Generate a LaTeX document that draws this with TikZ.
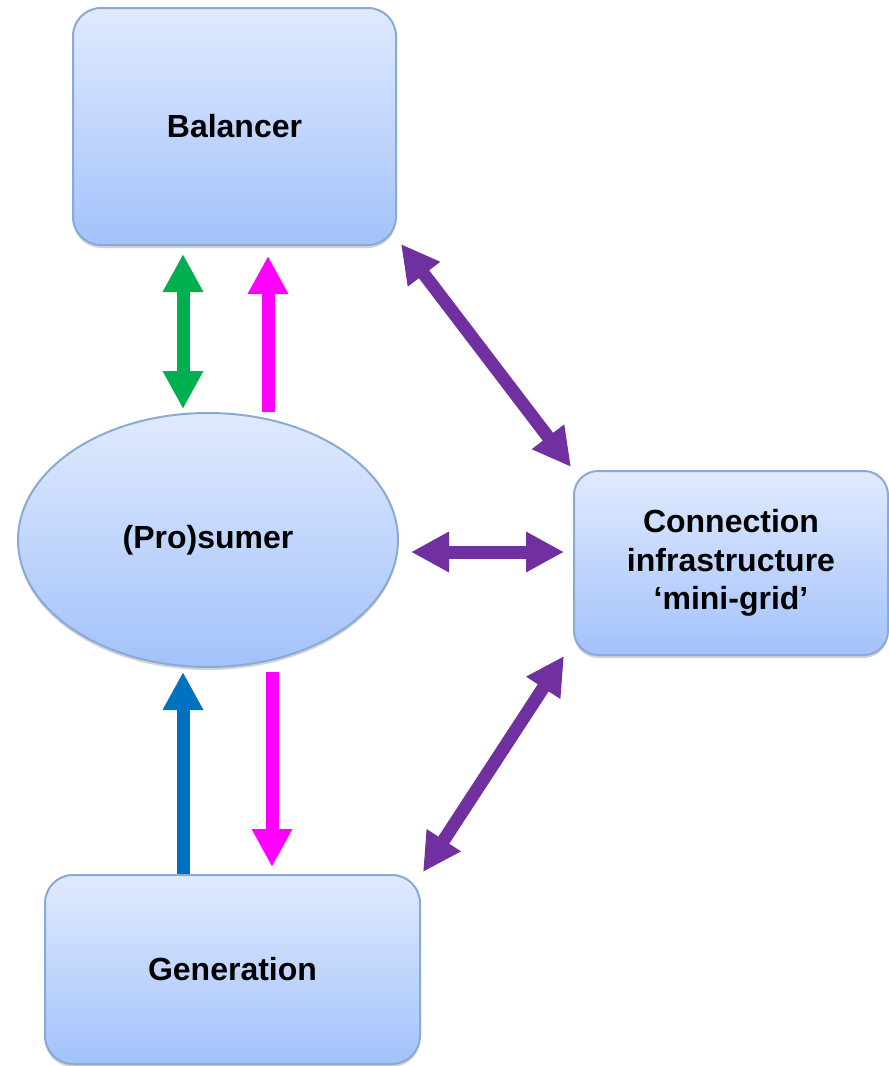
\documentclass[tikz,border=0pt]{standalone}
\usepackage{fontspec}
\setmainfont{Liberation Sans}
\usetikzlibrary{positioning,arrows.meta,shapes.geometric,shadows}
\definecolor{boxtop}{HTML}{E0EAFE}
\definecolor{boxbot}{HTML}{A3C2FB}
\definecolor{boxline}{HTML}{8AAAD6}
\definecolor{flowgreen}{HTML}{00B050}
\definecolor{flowpink}{HTML}{FF00FF}
\definecolor{flowpurple}{HTML}{7030A0}
\definecolor{flowblue}{HTML}{0070C0}
\begin{document}
\begin{tikzpicture}[x=1pt, y=-1pt,                        % pixel grid, y grows downwards
    actor/.style={draw=boxline, line width=2pt, top color=boxtop, bottom color=boxbot,
                  align=center, inner sep=0pt, font=\bfseries\fontsize{32}{38.5}\selectfont,
                  drop shadow={shadow xshift=0pt, shadow yshift=-3pt, opacity=0.35}},
    block/.style={actor, rectangle, rounded corners=28pt},  % the three boxes
    oval/.style={actor, ellipse},                           % the prosumer
    bighead/.tip={Triangle[length=38pt, width=38pt]},
    flow/.style={line width=13pt, -bighead},                % one-way flow
    both/.style={line width=13pt, bighead-bighead}]         % two-way flow
  \useasboundingbox (0,0) rectangle (889,1066);
  \node[block, minimum width=323pt, minimum height=237pt] (bal) at (234.5,126.5) {Balancer};
  \node[oval,  minimum width=380pt, minimum height=254pt] (pro) at (208,540)     {(Pro)sumer};
  \node[block, rounded corners=24pt,
        minimum width=314pt, minimum height=184pt]        (con) at (731,563)     {Connection\\infrastructure\\`mini-grid'};
  \node[block, minimum width=375pt, minimum height=189pt] (gen) at (232.5,969.5) {Generation};
  % balancer <-> prosumer
  \draw[both, flowgreen] ([xshift=-51.5pt,yshift=-8pt]bal.south) -- ([xshift=-25pt,yshift=3pt]pro.north);
  \draw[flow, flowpink]  ([xshift=60pt]pro.north) -- ([xshift=33.5pt,yshift=-10pt]bal.south);
  % the mini-grid links
  \draw[both, flowpurple] ([xshift=4pt,yshift=2pt]bal.south east) -- ([xshift=-2pt,yshift=3pt]con.north west);
  \draw[both, flowpurple] ([xshift=12pt,yshift=-12pt]pro.east) -- ([xshift=-9pt,yshift=11pt]con.west);
  \draw[both, flowpurple] ([xshift=-9pt]con.south west) -- ([xshift=2pt,yshift=2pt]gen.north east);
  % generation <-> prosumer
  \draw[flow, flowblue] ([xshift=-49.5pt]gen.north) -- ([xshift=-25pt,yshift=-4pt]pro.south);
  \draw[flow, flowpink] ([xshift=64pt,yshift=-4pt]pro.south) -- ([xshift=39.5pt,yshift=7pt]gen.north);
\end{tikzpicture}
\end{document}
